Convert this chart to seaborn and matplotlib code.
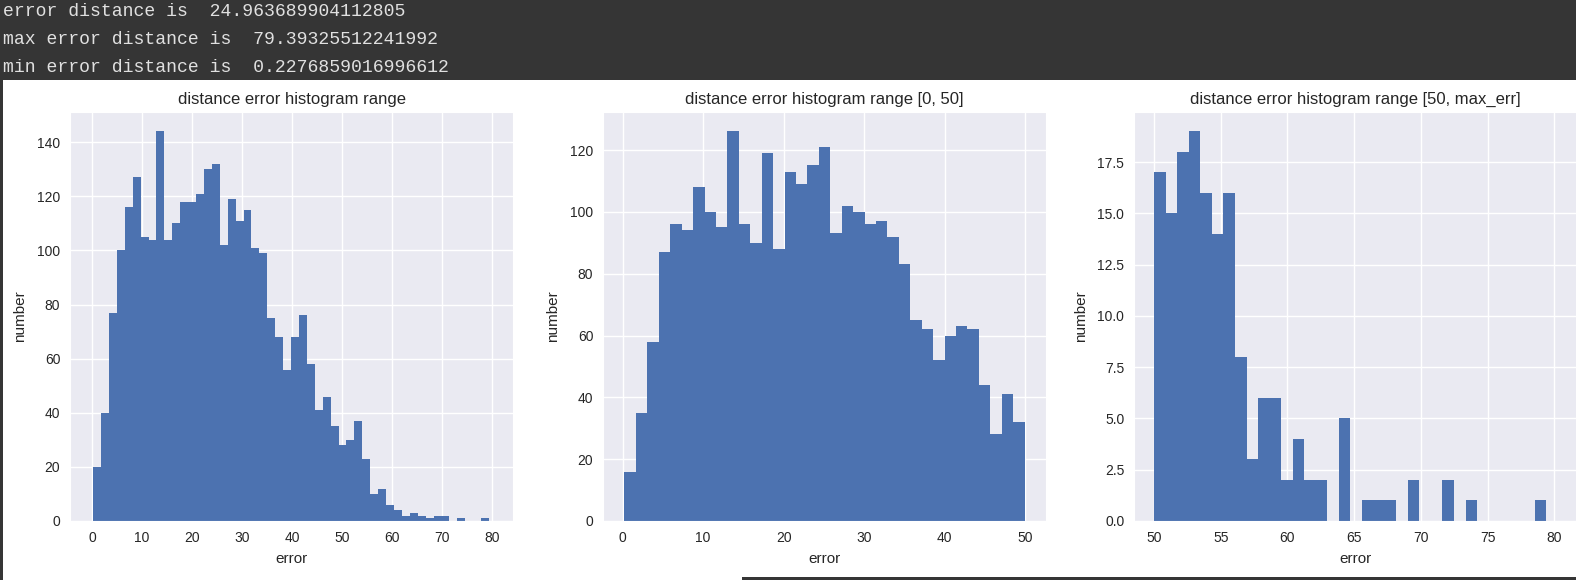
import numpy as np
import pandas as pd
import matplotlib
matplotlib.use("Agg")
import matplotlib.pyplot as plt
import seaborn as sns
from matplotlib.patches import Rectangle

# ---- printed summary values ----
mean_err = 24.963689904112805
max_err = 79.39325512241992
min_err = 0.2276859016996612

header_lines = [
    "error distance is  24.963689904112805",
    "max error distance is  79.39325512241992",
    "min error distance is  0.2276859016996612",
]

# ---- histogram counts ----
counts_all = [20, 40, 77, 100, 116, 127, 105, 104, 144, 104,
              110, 118, 118, 121, 130, 132, 102, 119, 111, 115,
              101, 99, 75, 68, 56, 68, 76, 58, 41, 46,
              35, 28, 30, 37, 23, 10, 12, 6, 4, 2,
              3, 2, 1, 2, 2, 0, 1, 0, 0, 1]
counts_low = [16, 35, 58, 87, 96, 94, 108, 100, 95, 126,
              96, 90, 119, 88, 113, 109, 115, 121, 93, 102,
              100, 96, 97, 92, 83, 65, 62, 52, 60, 63,
              62, 44, 28, 41, 32]
counts_high = [17, 15, 18, 19, 16, 14, 16, 8, 3, 6,
               6, 2, 4, 2, 2, 0, 5, 0, 1, 1,
               1, 0, 2, 0, 0, 2, 0, 1, 0, 0,
               0, 0, 0, 1]

low_range = (min_err, 49.95)
high_range = (50.02, max_err)

titles = ["distance error histogram range",
          "distance error histogram range [0, 50]",
          "distance error histogram range [50, max_err]"]
xticks_list = [[0, 10, 20, 30, 40, 50, 60, 70, 80],
               [0, 10, 20, 30, 40, 50],
               [50, 55, 60, 65, 70, 75, 80]]
yticks_list = [[0, 20, 40, 60, 80, 100, 120, 140],
               [0, 20, 40, 60, 80, 100, 120],
               [0, 2.5, 5, 7.5, 10, 12.5, 15, 17.5]]
xlims = [(-4.4, 84.2), (-2.44, 52.6), (48.5, 81.7)]

sns.set_style("darkgrid")
plt.rcParams["font.family"] = ["Liberation Sans", "DejaVu Sans"]
plt.rcParams["grid.linewidth"] = 1.0

W, H = 1576, 580
fig = plt.figure(figsize=(W / 100, H / 100), dpi=100)
fig.patch.set_facecolor("white")

# header band (notebook output area)
hdr_h = 80
fig.add_artist(Rectangle((0, 1 - hdr_h / H), 1, hdr_h / H, transform=fig.transFigure,
                         facecolor="#353535", edgecolor="none", zorder=-5))
fig.add_artist(Rectangle((0, 0), 3 / W, 1, transform=fig.transFigure,
                         facecolor="#353535", edgecolor="none", zorder=-5))
fig.add_artist(Rectangle((742 / W, 0), 1 - 742 / W, 3 / H, transform=fig.transFigure,
                         facecolor="#353535", edgecolor="none", zorder=-5))
for i, line in enumerate(header_lines):
    fig.text(3 / W, 1 - (12 + 27.5 * i) / H, line, family=["Liberation Mono", "DejaVu Sans Mono"],
             fontsize=13.1, color="#e0e0e0", va="center", ha="left")

edges_all = np.linspace(min_err, max_err, len(counts_all) + 1)
edges_low = np.linspace(low_range[0], low_range[1], len(counts_low) + 1)
edges_high = np.linspace(high_range[0], high_range[1], len(counts_high) + 1)

datasets = [(edges_all, counts_all), (edges_low, counts_low), (edges_high, counts_high)]

ax_lefts = [70, 603, 1134]
ax_w = 443
ax_top, ax_bot = 112, 521

for k, (edges, counts) in enumerate(datasets):
    ax = fig.add_axes([ax_lefts[k] / W, (H - ax_bot) / H, ax_w / W, (ax_bot - ax_top) / H])
    centers = (edges[:-1] + edges[1:]) / 2
    df = pd.DataFrame({"error": centers, "n": np.asarray(counts, dtype=float)})
    sns.histplot(data=df, x="error", weights="n", bins=[float(e) for e in edges], ax=ax,
                 color="#4C72B0", alpha=1.0, linewidth=0, edgecolor="none")
    ax.set_xlim(*xlims[k])
    ax.set_ylim(0, max(counts) * 1.05)
    ax.set_xticks(xticks_list[k])
    ax.set_yticks(yticks_list[k])
    if k == 2:
        ax.set_yticklabels([f"{v:.1f}" for v in yticks_list[k]])
    ax.set_title(titles[k], fontsize=12, color="#262626")
    ax.set_xlabel("error", fontsize=11, color="#262626", labelpad=5)
    ax.set_ylabel("number", fontsize=11, color="#262626", labelpad=7)
    ax.tick_params(labelsize=10, colors="#262626", length=0, pad=7)

fig.savefig("out.png", dpi=100)
